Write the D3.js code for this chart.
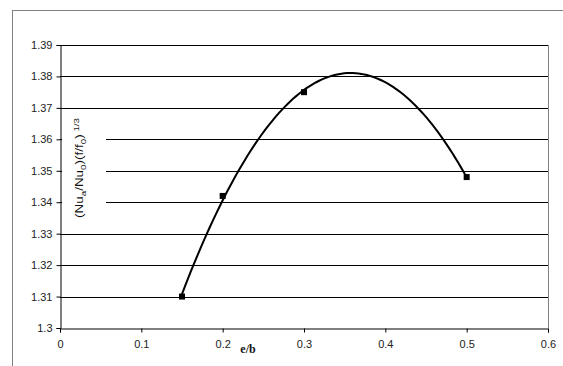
<!DOCTYPE html>
<html><head><meta charset="utf-8">
<script src="https://cdn.jsdelivr.net/npm/d3@7"></script>
<style>body{margin:0;background:#fff}svg{display:block}</style>
</head><body>
<svg id="c" width="563" height="366"></svg>
<script>
const xVals = [0.15, 0.2, 0.3, 0.5];
const yVals = [1.31, 1.342, 1.375, 1.348];
const xTicks = [0, 0.1, 0.2, 0.3, 0.4, 0.5, 0.6];
const yTicks = [1.3, 1.31, 1.32, 1.33, 1.34, 1.35, 1.36, 1.37, 1.38, 1.39];
const xTitle = "e/b";

const svg = d3.select("#c");
const L = 60, R = 548, T = 45, B = 328;
const x = d3.scaleLinear().domain([0, 0.6]).range([L, R]);
const y = d3.scaleLinear().domain([1.3, 1.39]).range([B, T]);

// outer frame
svg.append("rect").attr("x", 12.5).attr("y", 10.5).attr("width", 600).attr("height", 400)
  .attr("fill", "none").attr("stroke", "#808080").attr("stroke-width", 1);

// plot border right
svg.append("line").attr("x1", R + 0.5).attr("x2", R + 0.5).attr("y1", T).attr("y2", B)
  .attr("stroke", "#808080");

// gridlines
svg.append("g").selectAll("line").data(yTicks.slice(1)).join("line")
  .attr("x1", L).attr("x2", R)
  .attr("y1", d => Math.round(y(d)) + 0.5).attr("y2", d => Math.round(y(d)) + 0.5)
  .attr("stroke", "#000").attr("stroke-width", 1);

// axes
const gy = svg.append("g").attr("transform", `translate(${L + 0.5},0)`)
  .call(d3.axisLeft(y).tickValues(yTicks).tickFormat(d => String(+d.toFixed(2))).tickSize(4).tickPadding(4));
const gx = svg.append("g").attr("transform", `translate(0,${B + 0.5})`)
  .call(d3.axisBottom(x).tickValues(xTicks).tickFormat(d => String(+d.toFixed(1))).tickSize(4).tickPadding(8));
[gy, gx].forEach(g => {
  g.select(".domain").attr("stroke", "#000");
  g.selectAll(".tick line").attr("stroke", "#000");
  g.selectAll("text").attr("font-family", "Liberation Sans, Arial, sans-serif")
    .attr("font-size", 11).attr("fill", "#222");
});

// quadratic least-squares trendline computed from the data
function quadFit(xs, ys) {
  const S = k => d3.sum(xs, v => Math.pow(v, k));
  const Sy = k => d3.sum(xs, (v, i) => Math.pow(v, k) * ys[i]);
  const M = [[S(0), S(1), S(2), Sy(0)], [S(1), S(2), S(3), Sy(1)], [S(2), S(3), S(4), Sy(2)]];
  for (let i = 0; i < 3; i++) {
    for (let j = i + 1; j < 3; j++) {
      const f = M[j][i] / M[i][i];
      for (let k = i; k < 4; k++) M[j][k] -= f * M[i][k];
    }
  }
  const c = [0, 0, 0];
  for (let i = 2; i >= 0; i--) {
    let s = M[i][3];
    for (let k = i + 1; k < 3; k++) s -= M[i][k] * c[k];
    c[i] = s / M[i][i];
  }
  return v => c[0] + c[1] * v + c[2] * v * v;
}
const f = quadFit(xVals, yVals);
const [x0, x1] = d3.extent(xVals);
const trend = d3.range(0, 101).map(i => { const v = x0 + (x1 - x0) * i / 100; return [v, f(v)]; });
const line = d3.line().x(d => x(d[0])).y(d => y(d[1])).curve(d3.curveLinear);
svg.append("path").attr("d", line(trend))
  .attr("fill", "none").attr("stroke", "#000").attr("stroke-width", 2);

// markers
const pts = xVals.map((v, i) => [v, yVals[i]]);
svg.append("g").selectAll("rect").data(pts).join("rect")
  .attr("x", d => x(d[0]) - 3).attr("y", d => y(d[1]) - 3)
  .attr("width", 6).attr("height", 6).attr("fill", "#000");

// y title box
svg.append("rect").attr("x", 62).attr("y", 113).attr("width", 44).attr("height", 106).attr("fill", "#fff");
const yt = svg.append("text").attr("transform", "translate(83,168) rotate(-90)")
  .attr("text-anchor", "middle").attr("font-family", "Liberation Sans Narrow, Liberation Sans, Arial, sans-serif")
  .attr("font-size", 11).attr("fill", "#111").attr("textLength", 100).attr("lengthAdjust", "spacingAndGlyphs");
yt.append("tspan").text("(Nu");
yt.append("tspan").attr("font-size", 8).attr("dy", 3).text("a");
yt.append("tspan").attr("dy", -3).text("/Nu");
yt.append("tspan").attr("font-size", 8).attr("dy", 3).text("0");
yt.append("tspan").attr("dy", -3).text(")(f/f");
yt.append("tspan").attr("font-size", 8).attr("dy", 3).text("0");
yt.append("tspan").attr("dy", -3).text(")");
yt.append("tspan").attr("font-size", 8).attr("dy", -4).text(" 1/3");

// x title
svg.append("text").attr("x", 248).attr("y", 353).attr("text-anchor", "middle")
  .attr("font-family", "Liberation Serif, Times New Roman, serif").attr("font-weight", "bold")
  .attr("font-size", 12).attr("fill", "#111").text(xTitle);
</script>
</body></html>
